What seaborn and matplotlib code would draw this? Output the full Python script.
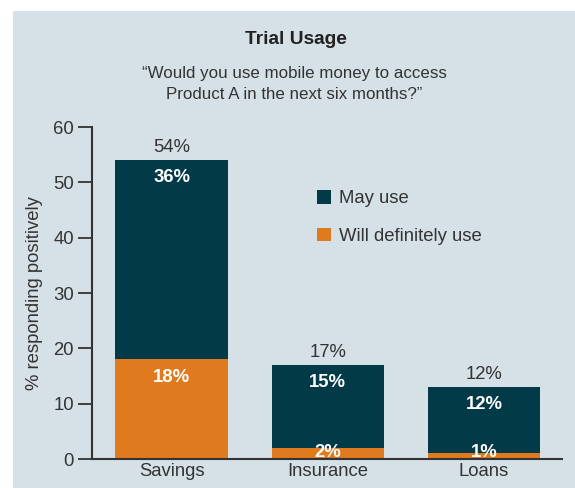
import seaborn as sns
import pandas as pd
import matplotlib.pyplot as plt
from matplotlib.patches import Rectangle

# data
products = ['Savings', 'Insurance', 'Loans']
definitely = [18, 2, 1]
may_use = [36, 15, 12]
total_labels = ['54%', '17%', '12%']

dark = '#023a47'
orange = '#e07a1f'
bg = '#d5e1e7'
txt = '#333333'

df = pd.DataFrame({'product': products, 'definitely': definitely, 'may_use': may_use})
df['total'] = df['definitely'] + df['may_use']

sns.set_style('white')
plt.rcParams['font.family'] = ['Liberation Sans', 'DejaVu Sans']

fig = plt.figure(figsize=(5.75, 4.88), dpi=100)
panel = Rectangle((13 / 575, 0), 1, 1 - 11 / 488, transform=fig.transFigure,
                  facecolor=bg, edgecolor='none', zorder=-10)
fig.add_artist(panel)
ax = fig.add_axes([92 / 575, 29 / 488, 470 / 575, 332 / 488])
ax.set_facecolor('none')

sns.barplot(data=df, x='product', y='total', color=dark, width=0.72, saturation=1,
            linewidth=0, label='May use', ax=ax)
sns.barplot(data=df, x='product', y='definitely', color=orange, width=0.72, saturation=1,
            linewidth=0, label='Will definitely use', ax=ax)

fs = 13.3
for i, row in df.iterrows():
    ax.annotate(total_labels[i], (i, row['total']), xytext=(0, 9), textcoords='offset points',
                ha='center', va='center', fontsize=fs, color=txt)
    ax.annotate(f"{row['may_use']}%", (i, row['total']), xytext=(0, -12.5), textcoords='offset points',
                ha='center', va='center', fontsize=fs, color='white', fontweight='bold')
    if row['definitely'] > 5:
        ax.annotate(f"{row['definitely']}%", (i, row['definitely']), xytext=(0, -13),
                    textcoords='offset points', ha='center', va='center', fontsize=fs,
                    color='white', fontweight='bold')
    else:
        ax.annotate(f"{row['definitely']}%", (i, 0), xytext=(0, 5), textcoords='offset points',
                    ha='center', va='center', fontsize=fs, color='white', fontweight='bold')

ax.set_xlim(-0.51, 2.5)
ax.set_ylim(0, 60)
ax.set_yticks(range(0, 61, 10))
ax.set_xlabel('')
ax.set_ylabel('% responding positively', fontsize=fs, color=txt)
ax.yaxis.set_label_coords(-0.104, 0.5)
ax.tick_params(axis='y', direction='out', length=10, width=1.3, color=txt, labelsize=fs,
               labelcolor=txt, left=True, pad=3)
ax.tick_params(axis='x', length=0, labelsize=fs, labelcolor=txt, pad=3)
sns.despine(ax=ax)
for s in ['left', 'bottom']:
    ax.spines[s].set_color(txt)
    ax.spines[s].set_linewidth(1.5)

leg = ax.legend(loc='upper left', bbox_to_anchor=(0.479, 0.81), frameon=False, fontsize=fs,
                borderpad=0, borderaxespad=0, handlelength=0.75, handleheight=0.75,
                handletextpad=0.45, labelspacing=1.1)
for t in leg.get_texts():
    t.set_color(txt)

fig.text(296 / 575, 1 - 40 / 488, 'Trial Usage', ha='center', va='center', fontsize=13.8,
         fontweight='bold', color='#222222')
fig.text(294 / 575, 1 - 84 / 488,
         '\u201cWould you use mobile money to access\nProduct A in the next six months?\u201d',
         ha='center', va='center', fontsize=12.2, color=txt, linespacing=1.45)

fig.savefig('out.png', dpi=100)
